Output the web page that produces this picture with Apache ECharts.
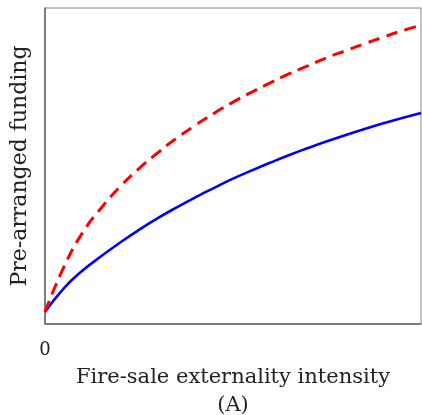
<!DOCTYPE html>
<html>
<head>
<meta charset="utf-8">
<script src="https://cdn.jsdelivr.net/npm/echarts@6/dist/echarts.min.js"></script>
<style>
html,body{margin:0;padding:0;background:#fff;}
#chart{width:422px;height:415px;}
</style>
</head>
<body>
<div id="chart"></div>
<script>
const xValues = [0, 5, 10, 15, 20, 25, 30, 35, 40, 45, 50, 55, 60, 65, 70, 75, 80, 85, 90, 95, 100];
const bluePrearranged = [3.8, 11.3, 16.9, 21.5, 25.8, 29.8, 33.5, 36.9, 40.1, 43.1, 46.0, 48.6, 51.1, 53.5, 55.7, 57.8, 59.8, 61.7, 63.5, 65.2, 66.8];
const redPrearranged = [3.8, 18.0, 28.9, 36.8, 43.5, 49.2, 54.2, 58.8, 62.9, 66.7, 70.2, 73.4, 76.4, 79.2, 81.8, 84.3, 86.5, 88.7, 90.8, 92.8, 94.6];
const xTickLabels = ['0'];
const xAxisTitle = 'Fire-sale externality intensity';
const panelLabel = '(A)';
const yAxisTitle = 'Pre-arranged funding';

const pair = (ys) => xValues.map((x, i) => [x, ys[i]]);
const FONT = 'DejaVu Serif';
const chart = echarts.init(document.getElementById('chart'), null, {renderer: 'canvas'});
chart.setOption({
  animation: false,
  backgroundColor: '#ffffff',
  grid: {left: 45, right: 1, top: 8, bottom: 91, outerBoundsMode: 'none', containLabel: false,
         show: true, borderColor: '#888', borderWidth: 1},
  xAxis: {
    type: 'value', min: 0, max: 100, interval: 100,
    axisLine: {show: true, lineStyle: {color: '#666', width: 1.5}},
    axisTick: {show: false},
    splitLine: {show: false},
    axisLabel: {
      margin: 17, color: '#222', fontFamily: FONT, fontSize: 18,
      formatter: (v) => v === 0 ? xTickLabels[0] : ''
    },
    name: xAxisTitle + '\n' + panelLabel,
    nameLocation: 'middle', nameGap: 37,
    nameTextStyle: {color: '#222', fontFamily: FONT, fontSize: 21, lineHeight: 28, verticalAlign: 'top'}
  },
  yAxis: {
    type: 'value', min: 0, max: 100,
    axisLine: {show: true, lineStyle: {color: '#666', width: 1.5}},
    axisTick: {show: false},
    splitLine: {show: false},
    axisLabel: {show: false},
    name: yAxisTitle, nameLocation: 'middle', nameGap: 14,
    nameTextStyle: {color: '#222', fontFamily: FONT, fontSize: 22}
  },
  series: [
    {
      type: 'line', data: pair(bluePrearranged), smooth: 0.5, symbol: 'none',
      lineStyle: {color: '#0000ff', width: 2.6}, z: 3
    },
    {
      type: 'line', data: pair(redPrearranged), smooth: 0.5, symbol: 'none',
      lineStyle: {color: '#ff0000', width: 3, type: [12, 7]}, z: 4
    }
  ]
});
</script>
</body>
</html>
